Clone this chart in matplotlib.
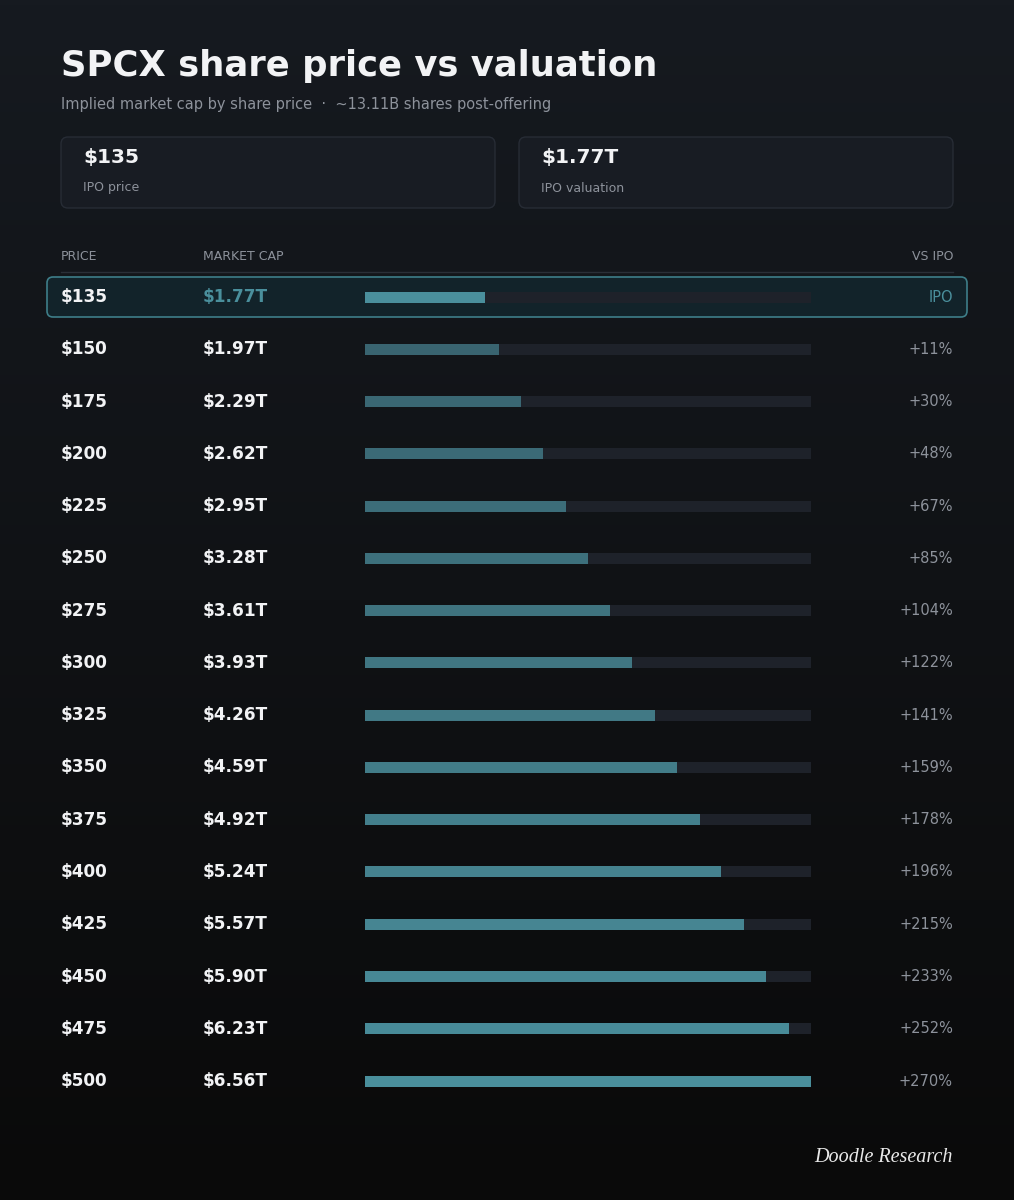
import matplotlib
matplotlib.use('Agg')
import matplotlib.pyplot as plt
from matplotlib.patches import FancyBboxPatch
import numpy as np

# data
prices = [135, 150, 175, 200, 225, 250, 275, 300, 325, 350, 375, 400, 425, 450, 475, 500]
market_caps = [1.77, 1.97, 2.29, 2.62, 2.95, 3.28, 3.61, 3.93, 4.26, 4.59, 4.92, 5.24, 5.57, 5.90, 6.23, 6.56]
vs_ipo = ['IPO', '+11%', '+30%', '+48%', '+67%', '+85%', '+104%', '+122%', '+141%',
          '+159%', '+178%', '+196%', '+215%', '+233%', '+252%', '+270%']
ipo_price = '$135'
ipo_valuation = '$1.77T'

W, H = 1014, 1200
TEAL = '#4a8f9c'
WHITE = '#f2f3f5'
GREY = '#8d929b'

fig = plt.figure(figsize=(W / 100, H / 100), dpi=100)
ax = fig.add_axes([0, 0, 1, 1])
ax.set_xlim(0, W)
ax.set_ylim(H, 0)
ax.axis('off')

# background gradient, top slightly blue-grey, bottom near black
top = np.array([0x16, 0x1a, 0x20]) / 255
bot = np.array([0x0a, 0x0a, 0x0a]) / 255
t = np.linspace(0, 1, 256)[:, None]
grad = (top * (1 - t) + bot * t)[:, None, :]
ax.imshow(grad, extent=[0, W, H, 0], aspect='auto', zorder=0)

# title
ax.text(61, 66, 'SPCX share price vs valuation', fontsize=25.5, fontweight='bold',
        color=WHITE, va='center', ha='left')
ax.text(61, 104, 'Implied market cap by share price  ·  ~13.11B shares post-offering',
        fontsize=10.5, color=GREY, va='center', ha='left')

# summary cards
for x0, big, small in [(61, ipo_price, 'IPO price'), (519, ipo_valuation, 'IPO valuation')]:
    card = FancyBboxPatch((x0, 137), 434, 71, boxstyle='round,pad=0,rounding_size=7',
                          fc='#181c23', ec='#272c35', lw=1, zorder=1)
    ax.add_patch(card)
    ax.text(x0 + 22, 158, big, fontsize=14.5, fontweight='bold', color=WHITE, va='center')
    ax.text(x0 + 22, 188, small, fontsize=9, color=GREY, va='center')

# column headers
ax.text(61, 256, 'PRICE', fontsize=9, color=GREY, va='center')
ax.text(203, 256, 'MARKET CAP', fontsize=9, color=GREY, va='center')
ax.text(953, 256, 'VS IPO', fontsize=9, color=GREY, va='center', ha='right')
ax.plot([61, 953], [272, 272], color='#2a2f37', lw=1, zorder=1)

# rows
row0, step = 297, 52.27
bar_x0, bar_w = 365, 446
cap_max = max(market_caps)
ys = row0 + step * np.arange(len(prices))

hl = FancyBboxPatch((47, ys[0] - 20), 920, 40, boxstyle='round,pad=0,rounding_size=6',
                    fc='#12232a', ec='#3e7e89', lw=1.2, zorder=1)
ax.add_patch(hl)

ax.barh(ys, [bar_w] * len(ys), left=bar_x0, height=11, color='#1e222a', zorder=2)
for i, (y, p, cap, pct) in enumerate(zip(ys, prices, market_caps, vs_ipo)):
    frac = cap / cap_max
    alpha = 1.0 if i == 0 else 0.45 + 0.55 * frac
    ax.barh(y, frac * bar_w, left=bar_x0, height=11, color=TEAL, alpha=alpha, zorder=3)
    ax.text(61, y, f'${p}', fontsize=12.2, fontweight='bold', color=WHITE, va='center')
    ax.text(203, y, f'${cap:.2f}T', fontsize=12.2, fontweight='bold',
            color=TEAL if i == 0 else WHITE, va='center')
    ax.text(953, y, pct, fontsize=10.5, color=TEAL if i == 0 else GREY,
            va='center', ha='right')

# footer
ax.text(953, 1158, 'Doodle Research', fontsize=14.5, fontstyle='italic',
        family='Liberation Serif', color='#e8e8e8', va='center', ha='right')

fig.savefig('out.png', dpi=100, facecolor='#111318')
